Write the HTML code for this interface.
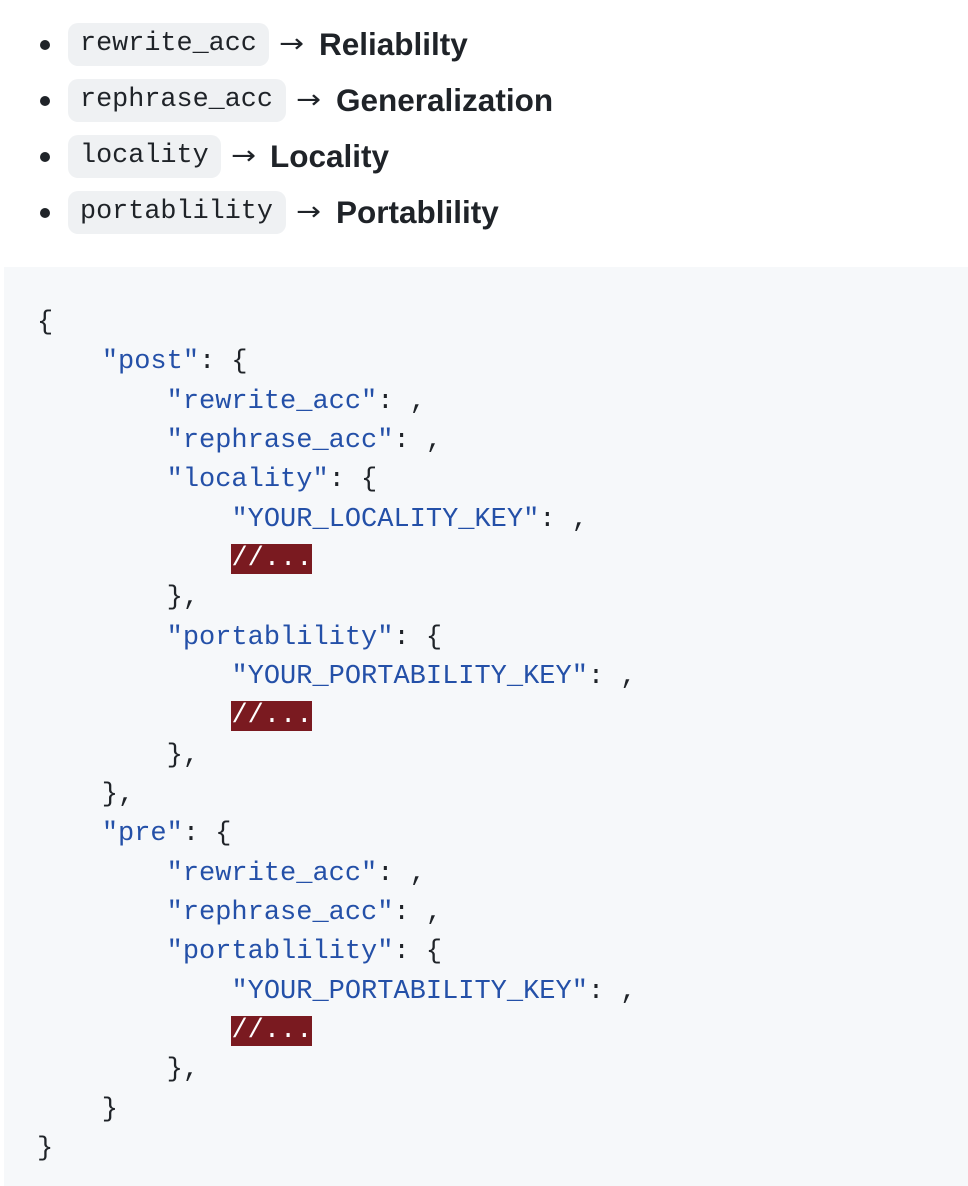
<!DOCTYPE html>
<html><head><meta charset="utf-8"><style>
html,body{margin:0;padding:0;background:#fff;width:968px;height:1186px;overflow:hidden}
.row{position:absolute;left:0;width:968px;height:43px}
.dot{position:absolute;left:40px;top:17px;width:10px;height:10px;border-radius:50%;background:#1f2328}
.pill{position:absolute;left:68px;top:0;height:43px;border-radius:10px;background:#eff1f3;font-family:"Liberation Mono",monospace;font-size:26.8px;line-height:43px;padding:0 12px;box-sizing:border-box;color:#1f2328;white-space:nowrap}
.arr{position:absolute;top:0;line-height:43px;font-family:"DejaVu Sans",sans-serif;font-size:26px;color:#1f2328;transform:scaleX(1.15);transform-origin:left}
.lab{position:absolute;top:0;line-height:43px;white-space:nowrap;font-family:"Liberation Sans",sans-serif;font-size:31.5px;font-weight:bold;color:#1f2328}
.code{position:absolute;left:4px;top:267px;width:964px;height:919px;background:#f6f8fa}
pre{position:absolute;left:37px;top:304px;margin:0;font-family:"Liberation Mono",monospace;font-size:27px;line-height:39.33px;color:#1f2328}
.s{color:#2450a8}
.e{background:#7a1a20;color:#fff}
</style></head><body>
<div class="row" style="top:23px"><div class="dot"></div><div class="pill" style="width:201px">rewrite_acc</div><div class="arr" style="left:279px">→</div><div class="lab" style="left:319px">Reliablilty</div></div>
<div class="row" style="top:79px"><div class="dot"></div><div class="pill" style="width:218px">rephrase_acc</div><div class="arr" style="left:296px">→</div><div class="lab" style="left:336px">Generalization</div></div>
<div class="row" style="top:135px"><div class="dot"></div><div class="pill" style="width:153px">locality</div><div class="arr" style="left:231px">→</div><div class="lab" style="left:270px">Locality</div></div>
<div class="row" style="top:191px"><div class="dot"></div><div class="pill" style="width:218px">portablility</div><div class="arr" style="left:296px">→</div><div class="lab" style="left:336px">Portablility</div></div>
<div class="code"></div>
<pre>{
    <span class="s">"post"</span>: {
        <span class="s">"rewrite_acc"</span>: ,
        <span class="s">"rephrase_acc"</span>: ,
        <span class="s">"locality"</span>: {
            <span class="s">"YOUR_LOCALITY_KEY"</span>: ,
            <span class="e">//...</span>
        },
        <span class="s">"portablility"</span>: {
            <span class="s">"YOUR_PORTABILITY_KEY"</span>: ,
            <span class="e">//...</span>
        },
    },
    <span class="s">"pre"</span>: {
        <span class="s">"rewrite_acc"</span>: ,
        <span class="s">"rephrase_acc"</span>: ,
        <span class="s">"portablility"</span>: {
            <span class="s">"YOUR_PORTABILITY_KEY"</span>: ,
            <span class="e">//...</span>
        },
    }
}</pre>
</body></html>
